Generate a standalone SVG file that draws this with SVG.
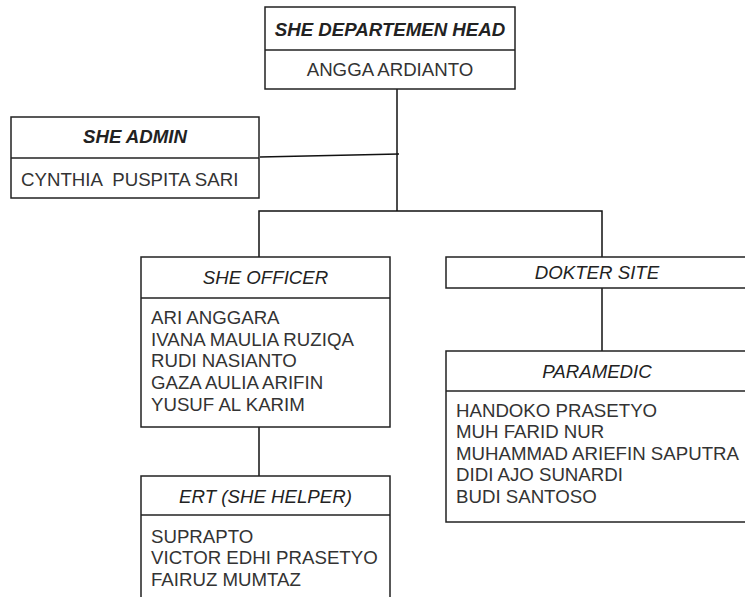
<svg xmlns="http://www.w3.org/2000/svg" width="745" height="597" viewBox="0 0 745 597">
<style>
.box{fill:#fff;stroke:#222;stroke-width:1.5}
.div{stroke:#222;stroke-width:1.5}
.hd{font-family:"Liberation Sans",Arial,sans-serif;font-size:18.67px;font-style:italic;fill:#222;text-anchor:middle}
.hb{font-weight:bold}
.tx{font-family:"Liberation Sans",Arial,sans-serif;font-size:18.67px;fill:#333}
.tc{text-anchor:middle}
.pre{white-space:pre}
.con{fill:none;stroke:#111;stroke-width:1.5}
</style>
<rect width="745" height="597" fill="#fff"/>
<g id="connectors">
<path class="con" d="M397 89V211"/>
<path class="con" d="M260 157L399 154"/>
<path class="con" d="M259 257V211H602V257"/>
<path class="con" d="M602 288V351"/>
<path class="con" d="M259 427V476"/>
</g>
<g id="head">
<rect class="box" x="265" y="7" width="250" height="82"/>
<line class="div" x1="265" y1="50" x2="515" y2="50"/>
<text class="hd hb" x="390" y="36">SHE DEPARTEMEN HEAD</text>
<text class="tx tc" x="390" y="76">ANGGA ARDIANTO</text>
</g>
<g id="admin">
<rect class="box" x="11" y="117" width="248" height="81"/>
<line class="div" x1="11" y1="158" x2="259" y2="158"/>
<text class="hd hb" x="135" y="143">SHE ADMIN</text>
<text class="tx pre" x="21" y="186" xml:space="preserve">CYNTHIA  PUSPITA SARI</text>
</g>
<g id="officer">
<rect class="box" x="141" y="257" width="249" height="170"/>
<line class="div" x1="141" y1="298" x2="390" y2="298"/>
<text class="hd" x="265.5" y="284">SHE OFFICER</text>
<text class="tx" x="151" y="324">ARI ANGGARA</text>
<text class="tx" x="151" y="346">IVANA MAULIA RUZIQA</text>
<text class="tx" x="151" y="367">RUDI NASIANTO</text>
<text class="tx" x="151" y="389">GAZA AULIA ARIFIN</text>
<text class="tx" x="151" y="411">YUSUF AL KARIM</text>
</g>
<g id="dokter">
<rect class="box" x="446" y="257" width="302" height="31"/>
<text class="hd" x="597" y="279">DOKTER SITE</text>
</g>
<g id="paramedic">
<rect class="box" x="446" y="351" width="302" height="171"/>
<line class="div" x1="446" y1="391" x2="748" y2="391"/>
<text class="hd" x="597" y="378">PARAMEDIC</text>
<text class="tx" x="456" y="417">HANDOKO PRASETYO</text>
<text class="tx" x="456" y="438">MUH FARID NUR</text>
<text class="tx" x="456" y="460">MUHAMMAD ARIEFIN SAPUTRA</text>
<text class="tx" x="456" y="481">DIDI AJO SUNARDI</text>
<text class="tx" x="456" y="503">BUDI SANTOSO</text>
</g>
<g id="ert">
<rect class="box" x="141" y="476" width="249" height="135"/>
<line class="div" x1="141" y1="515" x2="390" y2="515"/>
<text class="hd" x="265.5" y="503">ERT (SHE HELPER)</text>
<text class="tx" x="151" y="543">SUPRAPTO</text>
<text class="tx" x="151" y="564">VICTOR EDHI PRASETYO</text>
<text class="tx" x="151" y="586">FAIRUZ MUMTAZ</text>
</g>
</svg>
